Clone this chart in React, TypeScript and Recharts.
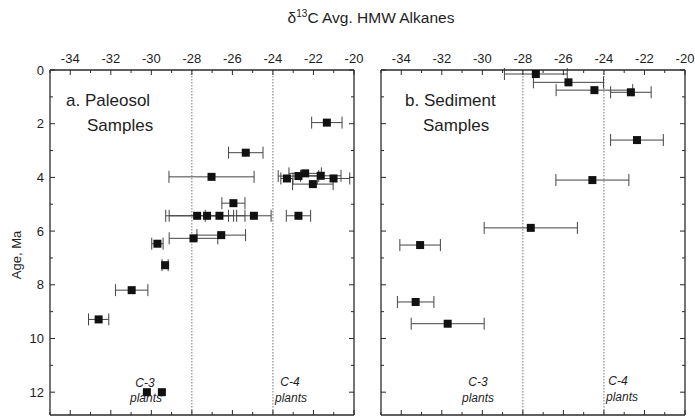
import React from 'react';
import { ScatterChart, Scatter, XAxis, YAxis, ErrorBar, ReferenceLine } from 'recharts';

// ---------- axis values ----------
const xTicks = [-35, -34, -33, -32, -31, -30, -29, -28, -27, -26, -25, -24, -23, -22, -21, -20];
const xDomain = [-35, -20];
const ageTicks = [0, 1, 2, 3, 4, 5, 6, 7, 8, 9, 10, 11, 12];
const ageDomain = [0, 12.85];
const c3c4Bounds = [-28, -24];

// ---------- a. Paleosol samples ----------
const paleosolD13C = [-21.34, -25.34, -27.03, -23.31, -22.74, -22.41, -21.64, -21.01, -22.03, -25.95, -27.74, -27.25, -26.64, -24.94, -22.74, -27.92, -26.55, -29.7, -29.32, -30.97, -32.6, -30.22, -29.48];
const paleosolAge = [1.96, 3.08, 3.98, 4.04, 3.95, 3.85, 3.94, 4.04, 4.25, 4.96, 5.43, 5.43, 5.43, 5.43, 5.43, 6.27, 6.15, 6.47, 7.27, 8.2, 9.29, 12.0, 12.0];
const paleosolErr = [0.75, 0.85, 2.1, 0.3, 1.0, 0.8, 1.0, 0.8, 1.0, 0.57, 1.55, 1.87, 0.7, 0.85, 0.6, 1.2, 1.2, 0.28, 0.15, 0.8, 0.5, 0, 0];

// ---------- b. Sediment samples ----------
const sedimentD13C = [-27.36, -25.75, -24.47, -22.67, -22.37, -24.57, -27.61, -33.07, -33.29, -31.71];
const sedimentAge = [0.15, 0.46, 0.75, 0.83, 2.61, 4.1, 5.88, 6.52, 8.64, 9.45];
const sedimentErr = [1.55, 1.73, 1.89, 1.0, 1.3, 1.8, 2.3, 1.0, 0.9, 1.8];

const build = (xs: number[], ys: number[], es: number[]) =>
  xs.map((x, i) => ({ d13c: x, age: ys[i], err: es[i] }));

const paleosolData = build(paleosolD13C, paleosolAge, paleosolErr);
const sedimentData = build(sedimentD13C, sedimentAge, sedimentErr);

const FRAME = '#2a2a2a';
const INK = '#1e1e1e';
const FONT = '"Liberation Sans", Arial, sans-serif';

const TopTick = (props: any) => {
  const { x, y, payload } = props;
  const v = payload.value;
  const major = v % 2 === 0;
  return (
    <g>
      <line x1={x} x2={x} y1={y} y2={y + (major ? 5 : 3)} stroke={FRAME} strokeWidth={1} />
      {major && (
        <text x={x} y={y - 7} textAnchor="middle" fontSize={13} fontFamily={FONT} fill={INK}>
          {String(v)}
        </text>
      )}
    </g>
  );
};

const BottomTick = (props: any) => {
  const { x, y, payload } = props;
  const major = payload.value % 2 === 0;
  return <line x1={x} x2={x} y1={y} y2={y - (major ? 5 : 3)} stroke={FRAME} strokeWidth={1} />;
};

const makeLeftTick = (showLabels: boolean) => (props: any) => {
  const { x, y, payload } = props;
  const v = payload.value;
  const major = v % 2 === 0;
  return (
    <g>
      <line x1={x} x2={x + (major ? 5 : 3)} y1={y} y2={y} stroke={FRAME} strokeWidth={1} />
      {showLabels && major && (
        <text x={x - 6} y={y + 4.5} textAnchor="end" fontSize={13} fontFamily={FONT} fill={INK}>
          {String(v)}
        </text>
      )}
    </g>
  );
};

const RightTick = (props: any) => {
  const { x, y, payload } = props;
  const major = payload.value % 2 === 0;
  return <line x1={x} x2={x - (major ? 5 : 3)} y1={y} y2={y} stroke={FRAME} strokeWidth={1} />;
};

const SquareShape = (props: any) => {
  const { cx, cy } = props;
  if (cx == null || cy == null) return null;
  return <rect x={cx - 4} y={cy - 4} width={8} height={8} fill="#111" />;
};

const NoShape = () => null;

const Panel = ({ data, width, margin, showLabels }: any) => (
  <ScatterChart width={width} height={418} margin={margin}>
    <XAxis
      xAxisId="top"
      orientation="top"
      type="number"
      dataKey="d13c"
      domain={xDomain}
      ticks={xTicks}
      interval={0}
      height={1}
      tickSize={0}
      tickMargin={0}
      tickLine={false}
      tick={TopTick}
      axisLine={{ stroke: FRAME, strokeWidth: 1.3 }}
      allowDataOverflow
    />
    <XAxis
      xAxisId="bottom"
      orientation="bottom"
      type="number"
      dataKey="d13c"
      domain={xDomain}
      ticks={xTicks}
      interval={0}
      height={1}
      tickSize={0}
      tickMargin={0}
      tickLine={false}
      tick={BottomTick}
      axisLine={{ stroke: FRAME, strokeWidth: 1.3 }}
      allowDataOverflow
    />
    <YAxis
      yAxisId="left"
      orientation="left"
      type="number"
      dataKey="age"
      domain={ageDomain}
      reversed
      ticks={ageTicks}
      interval={0}
      width={1}
      tickSize={0}
      tickMargin={0}
      tickLine={false}
      tick={makeLeftTick(showLabels)}
      axisLine={{ stroke: FRAME, strokeWidth: 1.3 }}
      allowDataOverflow
    />
    <YAxis
      yAxisId="right"
      orientation="right"
      type="number"
      dataKey="age"
      domain={ageDomain}
      reversed
      ticks={ageTicks}
      interval={0}
      width={1}
      tickSize={0}
      tickMargin={0}
      tickLine={false}
      tick={RightTick}
      axisLine={{ stroke: FRAME, strokeWidth: 1.3 }}
      allowDataOverflow
    />
    {c3c4Bounds.map((b) => (
      <ReferenceLine
        key={b}
        x={b}
        xAxisId="top"
        yAxisId="left"
        stroke="#777"
        strokeWidth={1}
        strokeDasharray="1.5 1.5"
      />
    ))}
    <Scatter
      data={data}
      xAxisId="bottom"
      yAxisId="right"
      shape={NoShape}
      isAnimationActive={false}
    />
    <Scatter
      data={data}
      xAxisId="top"
      yAxisId="left"
      shape={SquareShape}
      isAnimationActive={false}
    >
      <ErrorBar dataKey="err" direction="x" width={6} stroke="#444" strokeWidth={1} />
    </Scatter>
  </ScatterChart>
);

export default function App() {
  return (
    <div
      style={{
        position: 'absolute',
        left: 0,
        top: 0,
        width: 695,
        height: 418,
        background: '#fff',
        overflow: 'hidden',
      }}
    >
      <div style={{ position: 'absolute', left: 0, top: 0 }}>
        <Panel data={paleosolData} width={380} margin={{ top: 69, right: 25, bottom: 2, left: 49 }} showLabels />
      </div>
      <div style={{ position: 'absolute', left: 360, top: 0 }}>
        <Panel data={sedimentData} width={335} margin={{ top: 69, right: 9, bottom: 2, left: 20 }} showLabels={false} />
      </div>
      <svg
        width={695}
        height={418}
        style={{ position: 'absolute', left: 0, top: 0, pointerEvents: 'none' }}
        fontFamily={FONT}
      >
        <text x={371} y={23} textAnchor="middle" fontSize={15.5} fill={INK}>
          δ<tspan dy={-6} fontSize={10}>13</tspan>
          <tspan dy={6}>C Avg. HMW Alkanes</tspan>
        </text>
        <text
          x={0}
          y={0}
          transform="translate(21,255) rotate(-90)"
          textAnchor="middle"
          fontSize={13}
          fill={INK}
        >
          Age, Ma
        </text>
        <text x={66} y={106} fontSize={17} fill={INK}>a. Paleosol</text>
        <text x={87} y={131} fontSize={17} fill={INK}>Samples</text>
        <text x={405} y={106} fontSize={17} fill={INK}>b. Sediment</text>
        <text x={423} y={131} fontSize={17} fill={INK}>Samples</text>

        <text x={145} y={387} textAnchor="middle" fontSize={12} fontStyle="italic" fill={INK}>C-3</text>
        <text x={146} y={402} textAnchor="middle" fontSize={12} fontStyle="italic" fill={INK}>plants</text>
        <text x={290} y={386} textAnchor="middle" fontSize={12} fontStyle="italic" fill={INK}>C-4</text>
        <text x={291} y={402} textAnchor="middle" fontSize={12} fontStyle="italic" fill={INK}>plants</text>

        <text x={478} y={386} textAnchor="middle" fontSize={12} fontStyle="italic" fill={INK}>C-3</text>
        <text x={478} y={402} textAnchor="middle" fontSize={12} fontStyle="italic" fill={INK}>plants</text>
        <text x={618} y={385} textAnchor="middle" fontSize={12} fontStyle="italic" fill={INK}>C-4</text>
        <text x={622} y={401} textAnchor="middle" fontSize={12} fontStyle="italic" fill={INK}>plants</text>
      </svg>
    </div>
  );
}
